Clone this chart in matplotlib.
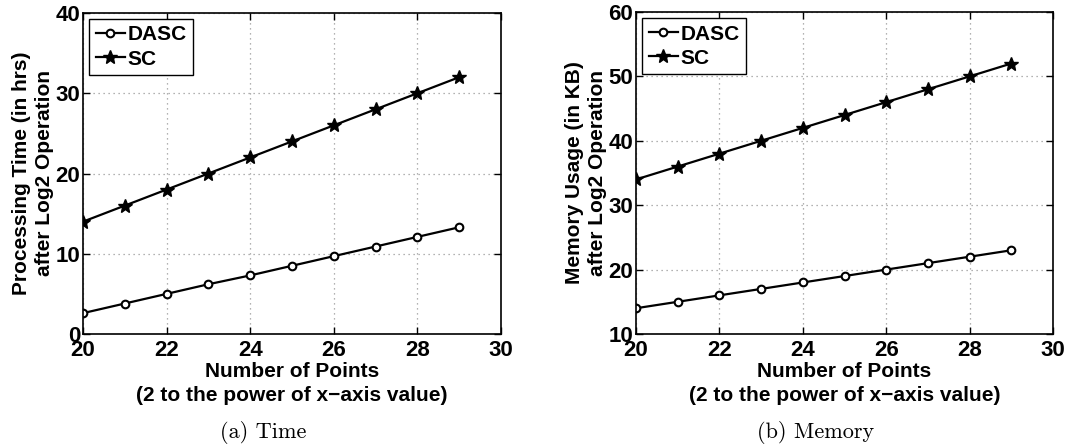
import numpy as np
import matplotlib.pyplot as plt

# x-axis: log2 of the number of points
x = [20, 21, 22, 23, 24, 25, 26, 27, 28, 29]

# (a) processing time in hrs after log2
time_dasc = [2.6, 3.8, 5.0, 6.2, 7.3, 8.5, 9.7, 10.9, 12.1, 13.3]
time_sc = [14, 16, 18, 20, 22, 24, 26, 28, 30, 32]

# (b) memory usage in KB after log2
mem_dasc = [14, 15, 16, 17, 18, 19, 20, 21, 22, 23]
mem_sc = [34, 36, 38, 40, 42, 44, 46, 48, 50, 52]

plt.rcParams['font.family'] = ['Liberation Sans', 'DejaVu Sans']
plt.rcParams['font.weight'] = 'bold'


def draw_panel(ax, dasc, sc, ylim, yticks, ylabel):
    ax.plot(x, dasc, '-o', color='black', lw=1.6, ms=5.5, mfc='white',
            mew=1.5, label='DASC')
    ax.plot(x, sc, '-*', color='black', lw=1.6, ms=10, label='SC')
    ax.set_xlim(20, 30)
    ax.set_ylim(*ylim)
    ax.set_xticks([20, 22, 24, 26, 28, 30])
    ax.set_yticks(yticks)
    ax.grid(True, linestyle=(0, (1, 3)), color='#999999', lw=0.9)
    ax.tick_params(direction='in', top=True, right=True, labelsize=16,
                   length=5, width=1.0)
    ax.tick_params(axis='x', pad=4)
    ax.tick_params(axis='y', pad=2)
    for lab in ax.get_xticklabels() + ax.get_yticklabels():
        lab.set_fontweight('bold')
    for s in ax.spines.values():
        s.set_linewidth(1.2)
    ax.set_xlabel('Number of Points\n(2 to the power of x\u2212axis value)',
                  fontsize=15, fontweight='bold', labelpad=1, linespacing=1.35)
    ax.set_ylabel(ylabel, fontsize=15, fontweight='bold', labelpad=1,
                  linespacing=1.3)
    leg = ax.legend(loc='upper left', fontsize=15, handlelength=1.4,
                    handletextpad=0.15, borderpad=0.3, labelspacing=0.25,
                    fancybox=False, framealpha=1, borderaxespad=0.3)
    leg.get_frame().set_edgecolor('black')
    leg.get_frame().set_linewidth(1.0)
    for t in leg.get_texts():
        t.set_fontweight('bold')


fig = plt.figure(figsize=(10.89, 4.45), dpi=100)
ax1 = fig.add_axes([83 / 1089, 1 - 334 / 445, 418 / 1089, 321 / 445])
ax2 = fig.add_axes([636 / 1089, 1 - 334 / 445, 417 / 1089, 322 / 445])

draw_panel(ax1, time_dasc, time_sc, (0, 40), [0, 10, 20, 30, 40],
           'Processing Time (in hrs)\nafter Log2 Operation')
draw_panel(ax2, mem_dasc, mem_sc, (10, 60), [10, 20, 30, 40, 50, 60],
           'Memory Usage (in KB)\nafter Log2 Operation')

fig.text(263 / 1089, 1 - 432 / 445, '(a) Time', ha='center', va='center',
         fontsize=16, family=['cmr10', 'DejaVu Serif'], fontweight='normal')
fig.text(816 / 1089, 1 - 432 / 445, '(b) Memory', ha='center', va='center',
         fontsize=16, family=['cmr10', 'DejaVu Serif'], fontweight='normal')

fig.savefig('out.png', dpi=100)
